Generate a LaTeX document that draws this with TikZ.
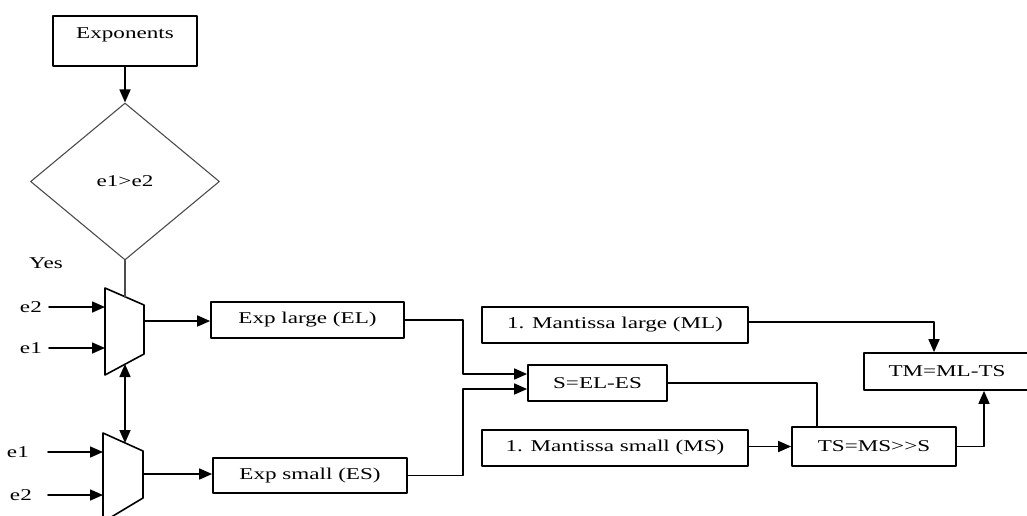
\documentclass[tikz,border=0pt]{standalone}
\usepackage{fontspec}
\setmainfont{Liberation Serif}[FakeStretch=1.4]
\usetikzlibrary{arrows.meta,shapes.geometric}

\begin{document}
\begin{tikzpicture}
			[line cap=round,line join=round,>={Triangle[length=13pt,width=11pt]},x=1pt,y=-1pt,
			font=\fontsize{16.5}{19}\selectfont,
			box/.style={draw,line width=1.7pt,rectangle,inner sep=0pt,minimum height=36pt},
			lbl/.style={inner ysep=2pt,inner xsep=7pt},
			wire/.style={line width=1.6pt}]
			\useasboundingbox (0,0) rectangle (1027,515);
			\node[box,minimum width=144pt,text height=23pt,text depth=27pt,anchor=north] (exps) at (125,15) {Exponents};
			\node[draw=black!70,line width=1.1pt,diamond,minimum width=189pt,minimum height=157pt,inner sep=0pt] (cmp) at (125,181.5) {e1>e2};
			\node (yes) at (46,263) {Yes};
			\draw[wire] (105,288) -- (144,305) -- (144,354) -- (105,375) -- cycle;
			\draw[wire] (103,433) -- (143,451) -- (143,498) -- (103,522) -- cycle;
			\coordinate (m1top) at (125,297);
			\coordinate (m1bot) at (125,364);
			\coordinate (m1a) at (105,307);
			\coordinate (m1b) at (105,348);
			\coordinate (m1out) at (144,321);
			\coordinate (m2top) at (125,443);
			\coordinate (m2a) at (103,452);
			\coordinate (m2b) at (103,495);
			\coordinate (m2out) at (143,474);
			\node[lbl,anchor=east] (e2a) at (49,307) {e2};
			\node[lbl,anchor=east] (e1a) at (49,348) {e1};
			\node[lbl,anchor=east] (e1b) at (36,452) {e1};
			\node[lbl,anchor=east] (e2b) at (39,495) {e2};
			\node[box,minimum width=193pt] (el) at (307.5,320) {Exp large (EL)};
			\node[box,minimum width=194pt,minimum height=35pt] (es) at (310,475.5) {Exp small (ES)};
			\node[box,minimum width=139pt] (s) at (597.5,383) {S=EL-ES};
			\node[box,minimum width=266pt] (ml) at (615,325) {1. Mantissa large (ML)};
			\node[box,minimum width=266pt] (ms) at (615,448) {1. Mantissa small (MS)};
			\node[box,minimum width=164pt,minimum height=39pt] (ts) at (874,446.5) {TS=MS>{}>S};
			\node[box,minimum width=166pt,minimum height=37pt] (tm) at (947,371.5) {TM=ML-TS};
			\draw[wire,->] (exps.south) -- (cmp.north);
			\draw[wire,draw=black!70] (cmp.south) -- (m1top);
			\draw[wire,->] (e2a) -- (m1a);
			\draw[wire,->] (e1a) -- (m1b);
			\draw[wire,->,shorten <=12pt] (e1b) -- (m2a);
			\draw[wire,->,shorten <=9pt] (e2b) -- (m2b);
			\draw[wire,<->] (m1bot) -- (m2top);
			\draw[wire,->] (m1out) -- (m1out -| el.west);
			\draw[wire,->] (m2out) -- (m2out -| es.west);
			\draw[wire,->] (el.east) -- ++(58,0) |- ([yshift=9pt]s.west);
			\draw[wire,->] (es.east) -- ++(55,0) |- ([yshift=-6pt]s.west);
			\draw[wire,->] ([yshift=3pt]ml.east) -| ([xshift=-13pt]tm.north);
			\draw[wire,->] (ms.east |- ts.west) -- (ts.west);
			\draw[wire] (s.east) -| ([xshift=-57pt]ts.north);
			\draw[wire,->] (ts.east) -| ([xshift=37pt]tm.south);
		\end{tikzpicture}
\end{document}
